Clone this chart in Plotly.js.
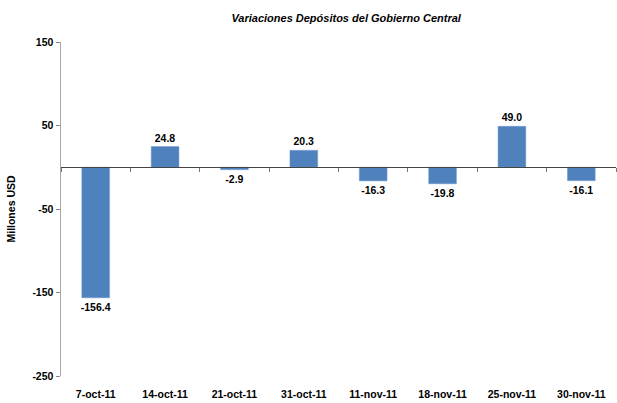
<!DOCTYPE html>
<html>
<head>
<meta charset="utf-8">
<script src="https://cdn.plot.ly/plotly-3.0.1.min.js"></script>
<style>html,body{margin:0;padding:0;background:#fff;}#chart{width:617px;height:403px;}</style>
</head>
<body>
<div id="chart"></div>
<script>
const categories = ["7-oct-11","14-oct-11","21-oct-11","31-oct-11","11-nov-11","18-nov-11","25-nov-11","30-nov-11"];
const values = [-156.4, 24.8, -2.9, 20.3, -16.3, -19.8, 49.0, -16.1];
const yTicks = [150, 50, -50, -150, -250];
const titleText = "Variaciones Depósitos del Gobierno Central";
const yTitle = "Millones USD";

const FONT = "'Liberation Sans', Arial, sans-serif";
const yMin = -250, yMax = 150;

const traces = [
  {
    type: "bar", x: categories, y: values,
    marker: {color: "#4F81BD", line: {color: "#6E9AD0", width: 0.5}},
    text: values.map(v => v.toFixed(1)),
    textposition: "outside", cliponaxis: false, constraintext: "none",
    textfont: {family: FONT, size: 10.5, color: "#000", weight: "bold"},
    hoverinfo: "skip"
  },
  {
    type: "bar", x: categories, y: values, xaxis: "x2",
    marker: {color: "rgba(0,0,0,0)"}, hoverinfo: "skip", showlegend: false
  }
];

const layout = {
  width: 617, height: 403,
  margin: {l: 61, r: 1, t: 42, b: 27},
  paper_bgcolor: "#fff", plot_bgcolor: "#fff",
  showlegend: false,
  bargap: 0.6,
  title: {
    text: titleText, x: 0.561, xanchor: "center", y: 0.955, yanchor: "middle",
    font: {family: FONT, size: 11, color: "#000", style: "italic", weight: "bold"}
  },
  xaxis: {
    type: "category", showgrid: false, zeroline: false, showline: false,
    ticks: "", ticklabelstandoff: 10,
    tickfont: {family: FONT, size: 10.5, color: "#000", weight: "bold"},
    fixedrange: true
  },
  xaxis2: {
    type: "category", overlaying: "x", anchor: "free",
    position: (0 - yMin) / (yMax - yMin),
    showgrid: false, zeroline: false, showline: true, linecolor: "#444", linewidth: 1,
    ticks: "outside", tickson: "boundaries", ticklen: 4, tickcolor: "#777",
    showticklabels: false, side: "bottom"
  },
  yaxis: {
    range: [yMin, yMax], tickvals: yTicks, ticktext: yTicks.map(String),
    showgrid: false, zeroline: false,
    showline: true, linecolor: "#A6A6A6", linewidth: 1.5,
    ticks: "outside", ticklen: 4, tickcolor: "#888",
    tickfont: {family: FONT, size: 10.5, color: "#000", weight: "bold"},
    title: {text: yTitle, standoff: 14, font: {family: FONT, size: 10.5, color: "#000", weight: "bold"}},
    fixedrange: true
  }
};

Plotly.newPlot("chart", traces, layout, {displayModeBar: false, staticPlot: true});
</script>
</body>
</html>
